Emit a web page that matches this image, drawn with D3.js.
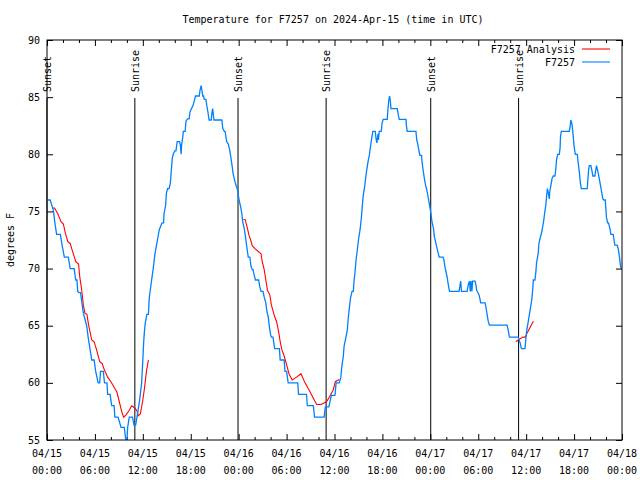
<!DOCTYPE html>
<html><head><meta charset="utf-8">
<script src="https://cdn.jsdelivr.net/npm/d3@7"></script>
<style>
body{margin:0;background:#fff}
text{font-family:"DejaVu Sans Mono",monospace;font-size:10px;fill:#000}
</style>
</head><body><svg id="c" width="640" height="480"></svg>
<script>
const title = "Temperature for F7257 on 2024-Apr-15 (time in UTC)";
const yLabel = "degrees F";
const startTime = "2024-04-15T00:00:00Z";
const endTime = "2024-04-18T00:00:00Z";
const yDomain = [55, 90];
const yTicks = [55, 60, 65, 70, 75, 80, 85, 90];
const seriesNames = ["F7257 Analysis", "F7257"];
const sunsetHours = [0.0, 23.92, 48.05];
const sunriseHours = [11.0, 34.95, 59.05];

// Observations (hours since start, deg F)
const obsHours = [0.0,0.4,0.8,0.95,1.2,1.67,1.9,2.17,2.67,2.9,3.4,3.6,3.75,3.85,4.0,4.2,4.55,4.97,5.15,5.4,5.6,5.9,6.1,6.4,6.6,6.7,7.05,7.2,7.5,7.6,7.9,8.1,8.4,8.5,8.9,9.27,9.68,9.85,10.0,10.1,10.3,10.7,10.9,11.1,11.27,11.6,11.85,12.0,12.1,12.2,12.3,12.5,12.7,12.8,13.1,13.3,13.5,13.7,14.06,14.4,14.6,14.65,14.85,14.95,15.1,15.3,15.45,15.57,15.7,15.8,16.0,16.15,16.3,16.6,16.7,16.8,16.85,17.0,17.07,17.3,17.4,17.6,17.8,17.9,18.1,18.3,18.6,19.07,19.16,19.3,19.4,19.5,19.6,19.7,19.9,20.0,20.15,20.3,20.57,20.66,20.75,20.9,21.9,22.0,22.2,22.3,22.5,22.7,22.9,23.05,23.2,23.3,23.5,23.7,23.9,24.0,24.1,24.25,24.4,24.5,24.7,24.85,25.0,25.2,25.4,25.55,25.7,25.8,25.95,26.1,26.5,26.65,26.8,27.05,27.2,27.4,27.55,27.7,27.85,28.0,28.1,28.3,28.5,29.1,29.2,29.7,29.8,30.0,30.2,31.4,31.5,32.5,32.6,33.35,33.5,34.7,34.85,35.3,35.6,36.06,36.2,36.6,36.8,36.9,37.0,37.1,37.2,37.4,37.6,37.7,37.85,38.0,38.2,38.35,38.44,38.57,38.7,38.85,39.0,39.2,39.36,39.5,39.6,39.78,39.9,40.03,40.2,40.36,40.5,40.66,40.8,41.1,41.2,41.3,41.45,41.5,41.6,41.86,41.95,42.1,42.6,42.7,42.8,42.9,43.0,43.07,43.86,44.0,44.1,44.95,45.0,45.1,46.2,46.3,46.45,46.6,46.7,46.9,46.96,47.1,47.25,47.4,47.55,47.7,47.83,47.96,48.1,48.2,48.4,48.5,48.7,48.9,49.1,49.6,49.7,49.8,49.96,50.1,50.2,50.3,50.4,51.6,51.8,51.9,52.6,52.75,52.9,53.0,53.1,53.2,53.3,53.6,53.7,53.8,53.95,54.1,54.2,54.3,54.85,54.95,55.06,55.15,55.26,55.4,57.6,57.76,57.9,59.0,59.1,59.25,59.4,59.85,59.95,60.07,60.26,60.5,60.7,60.8,60.9,61.1,61.2,61.3,61.5,61.6,61.8,61.95,62.1,62.2,62.3,62.45,62.57,62.65,62.75,62.9,62.95,63.1,63.25,63.4,63.6,63.7,63.8,63.95,64.15,64.24,64.3,64.4,65.4,65.5,65.6,65.75,65.9,66.0,66.15,66.4,66.5,66.65,66.77,66.9,67.65,67.8,67.9,68.1,68.25,68.35,68.6,68.8,68.95,69.15,69.3,69.45,69.6,69.75,69.9,70.05,70.2,70.3,70.5,70.6,70.9,71.0,71.1,71.4,71.5,71.65,71.8,71.9];
const obsTemps = [76.0,76.0,75.1,74.2,73.0,73.0,72.0,71.0,71.0,70.0,70.0,69.0,69.0,68.0,67.9,67.9,66.1,65.0,64.0,62.9,62.0,62.0,61.0,60.0,60.0,61.0,61.0,60.0,60.0,59.0,59.0,58.0,58.0,57.0,57.0,56.1,56.1,55.1,54.8,56.1,57.0,57.0,56.3,56.3,57.0,58.5,60.0,62.0,63.5,64.5,65.2,66.0,66.0,67.4,69.0,70.0,71.2,72.0,73.4,74.0,74.0,74.8,75.5,76.6,77.0,77.0,77.5,78.6,79.7,80.0,80.3,80.3,81.1,81.1,80.8,80.0,80.8,81.5,82.0,82.0,82.9,83.1,83.1,83.7,84.0,84.3,85.1,85.1,85.6,86.0,85.6,85.1,85.1,84.8,84.8,84.3,83.7,83.0,83.0,83.7,84.0,83.0,83.0,82.3,82.0,82.0,81.1,80.9,80.3,79.6,78.9,78.3,77.7,77.2,76.8,76.2,75.85,75.4,74.8,74.1,73.5,72.8,72.0,71.0,71.0,70.2,69.9,69.9,69.4,69.0,69.0,68.4,68.0,68.0,67.5,67.0,66.2,65.8,64.9,64.2,64.0,64.0,63.0,63.0,62.0,62.0,61.0,61.0,60.0,60.0,59.0,59.0,58.0,58.0,57.0,57.0,57.9,57.9,58.9,58.9,60.0,60.0,60.5,61.3,61.85,62.3,63.2,63.9,64.6,65.5,66.5,67.4,68.0,68.0,68.85,69.7,70.75,71.6,72.5,73.4,74.4,75.6,76.4,77.2,77.9,78.6,79.35,79.9,80.66,81.4,82.0,82.0,81.4,81.0,81.8,81.25,82.0,82.0,82.7,83.06,83.06,84.0,84.75,85.1,84.6,84.0,84.0,83.4,83.06,83.06,82.56,82.0,82.0,81.25,80.8,80.2,79.9,79.9,79.35,78.6,77.9,77.3,76.9,76.35,75.85,75.3,74.7,74.1,73.5,72.8,72.2,71.6,71.0,71.0,70.75,70.3,69.7,69.3,68.8,68.4,68.0,68.0,68.9,68.0,68.0,68.6,68.9,68.0,68.9,68.0,68.9,68.9,68.6,68.1,67.9,67.7,67.4,67.0,67.0,66.66,66.2,65.8,65.35,65.06,65.06,64.6,64.0,64.0,63.75,63.5,63.0,63.0,63.75,64.6,65.35,66.4,67.25,68.0,69.0,69.0,69.6,70.5,71.3,72.2,72.8,73.2,73.8,74.2,74.8,75.5,76.4,77.0,76.7,76.1,76.7,77.3,77.9,78.1,78.1,78.6,79.5,80.0,80.0,80.5,81.5,82.0,82.0,82.4,83.0,82.6,81.5,80.7,80.0,80.0,79.35,78.5,77.6,77.0,77.0,78.5,79.0,79.0,78.5,78.1,78.1,79.0,78.6,77.9,77.3,76.7,76.1,76.0,76.0,74.5,74.0,74.0,73.5,73.0,73.0,72.5,72.06,72.06,71.8,71.2,70.3,70.0];

// Analysis (hours since start, deg F); null marks a gap
const anaHours = [0.66,0.95,1.35,1.75,2.05,2.3,2.6,2.9,3.2,3.6,3.95,4.1,4.35,4.55,4.75,5.0,5.2,5.6,5.9,6.2,6.6,6.9,7.2,7.6,8.0,8.5,8.75,9.0,9.35,9.6,9.9,10.3,10.6,11.0,11.3,11.4,11.7,12.0,12.2,12.45,12.7,
  18.0,
  24.6,24.8,25.0,25.3,25.5,25.7,26.1,26.8,26.95,27.2,27.4,27.6,27.9,28.1,28.5,28.75,29.0,29.2,29.4,29.7,30.0,30.3,30.7,31.25,31.8,32.3,32.8,33.35,33.77,34.3,35.0,35.4,35.85,36.1,36.6,
  48.0,
  58.7,59.1,59.6,59.9,60.07,60.5,60.9];
const anaTemps = [75.3,75.3,74.8,74.1,73.9,73.1,72.35,72.2,71.5,70.6,70.4,69.3,68.1,66.8,66.1,66.0,65.1,63.75,63.6,62.9,61.85,61.7,61.1,60.5,60.1,59.5,59.2,58.5,57.5,57.0,57.2,57.6,58.0,57.8,57.5,57.1,57.3,58.5,59.5,61.0,62.0,
  null,
  74.3,74.3,73.8,72.9,72.5,72.0,71.7,71.3,70.6,69.9,69.0,68.1,67.7,66.8,65.8,65.35,64.5,63.6,62.9,62.35,61.6,60.8,60.25,60.5,60.8,60.0,59.4,58.65,58.1,58.1,58.35,58.8,59.4,60.1,60.3,
  null,
  63.6,63.8,64.0,64.0,64.3,64.86,65.4];

const W = 640, H = 480;
const m = {left: 47, right: 622, top: 40, bottom: 440};
const svg = d3.select("#c");
const t0 = new Date(startTime), t1 = new Date(endTime);
const hr = h => new Date(t0.getTime() + h * 3600e3);

const x = d3.scaleUtc().domain([t0, t1]).range([m.left, m.right]);
const y = d3.scaleLinear().domain(yDomain).range([m.bottom, m.top]);

const blue = "#0080ff", red = "#ff0000";

// clip
svg.append("defs").append("clipPath").attr("id", "clip")
  .append("rect").attr("x", m.left).attr("y", m.top)
  .attr("width", m.right - m.left).attr("height", m.bottom - m.top);

// title
svg.append("text").attr("x", (m.left + m.right) / 2 + 46 - 46 + 46/2*0 + 0).attr("y", 19)
  .attr("text-anchor", "middle").attr("dominant-baseline", "central").text(title)
  .attr("x", 333);

// y label
svg.append("text").attr("transform", `translate(10,${(m.top + m.bottom) / 2}) rotate(-90)`)
  .attr("text-anchor", "middle").attr("dominant-baseline", "central").text(yLabel);

// x axes
const majorT = d3.utcHour.every(6).range(t0, new Date(t1.getTime() + 1));
const minorT = d3.utcHour.every(2).range(t0, new Date(t1.getTime() + 1)).filter(d => d.getUTCHours() % 6 !== 0);
const fmt1 = d3.utcFormat("%m/%d"), fmt2 = d3.utcFormat("%H:%M");

function tickAxis(axisFn, pos, vals, size) {
  const g = svg.append("g").attr("transform", pos)
    .call(axisFn.tickValues(vals).tickSize(size).tickFormat(""));
  g.select(".domain").remove();
  g.selectAll(".tick line").attr("stroke", "#000");
  return g;
}
tickAxis(d3.axisBottom(x), `translate(0,${m.bottom})`, majorT, -6);
tickAxis(d3.axisBottom(x), `translate(0,${m.bottom})`, minorT, -3);
tickAxis(d3.axisTop(x), `translate(0,${m.top})`, majorT, -6);
tickAxis(d3.axisTop(x), `translate(0,${m.top})`, minorT, -3);
tickAxis(d3.axisLeft(y), `translate(${m.left},0)`, yTicks, -6);
tickAxis(d3.axisRight(y), `translate(${m.right},0)`, yTicks, -6);

// x labels
const xl = svg.append("g");
majorT.forEach(d => {
  const tx = xl.append("text").attr("text-anchor", "middle");
  tx.append("tspan").attr("x", x(d)).attr("y", 457).text(fmt1(d));
  tx.append("tspan").attr("x", x(d)).attr("y", 474).text(fmt2(d));
});
// y labels
yTicks.forEach(v => {
  svg.append("text").attr("x", m.left - 7).attr("y", y(v))
    .attr("text-anchor", "end").attr("dominant-baseline", "central").text(v);
});

// sunrise / sunset
const events = sunsetHours.map(h => ({h, name: "Sunset"}))
  .concat(sunriseHours.map(h => ({h, name: "Sunrise"})));
events.forEach(e => {
  const px = x(hr(e.h));
  svg.append("line").attr("x1", px).attr("x2", px).attr("y1", 98).attr("y2", m.bottom)
    .attr("stroke", "#000").attr("stroke-width", 1);
  svg.append("text").attr("transform", `translate(${px + 0.5},92) rotate(-90)`)
    .attr("text-anchor", "start").attr("dominant-baseline", "central").text(e.name);
});

// series
const line = d3.line().defined(d => d[1] !== null).x(d => x(hr(d[0]))).y(d => y(d[1]));
const anaData = anaHours.map((h, i) => [h, anaTemps[i]]);
const obsData = obsHours.map((h, i) => [h, obsTemps[i]]);
const plot = svg.append("g").attr("clip-path", "url(#clip)");
plot.append("path").datum(anaData).attr("d", line).attr("fill", "none")
  .attr("stroke", red).attr("stroke-width", 1.1);
plot.append("path").datum(obsData).attr("d", line).attr("fill", "none")
  .attr("stroke", blue).attr("stroke-width", 1.3);

// border
svg.append("rect").attr("x", m.left).attr("y", m.top)
  .attr("width", m.right - m.left).attr("height", m.bottom - m.top)
  .attr("fill", "none").attr("stroke", "#000").attr("stroke-width", 1);

// legend
const lg = [{name: seriesNames[0], c: red, y: 49}, {name: seriesNames[1], c: blue, y: 62}];
lg.forEach(l => {
  svg.append("text").attr("x", 575).attr("y", l.y).attr("text-anchor", "end")
    .attr("dominant-baseline", "central").text(l.name);
  svg.append("line").attr("x1", 582).attr("x2", 610).attr("y1", l.y).attr("y2", l.y)
    .attr("stroke", l.c).attr("stroke-width", 1.1);
});
</script></body></html>
